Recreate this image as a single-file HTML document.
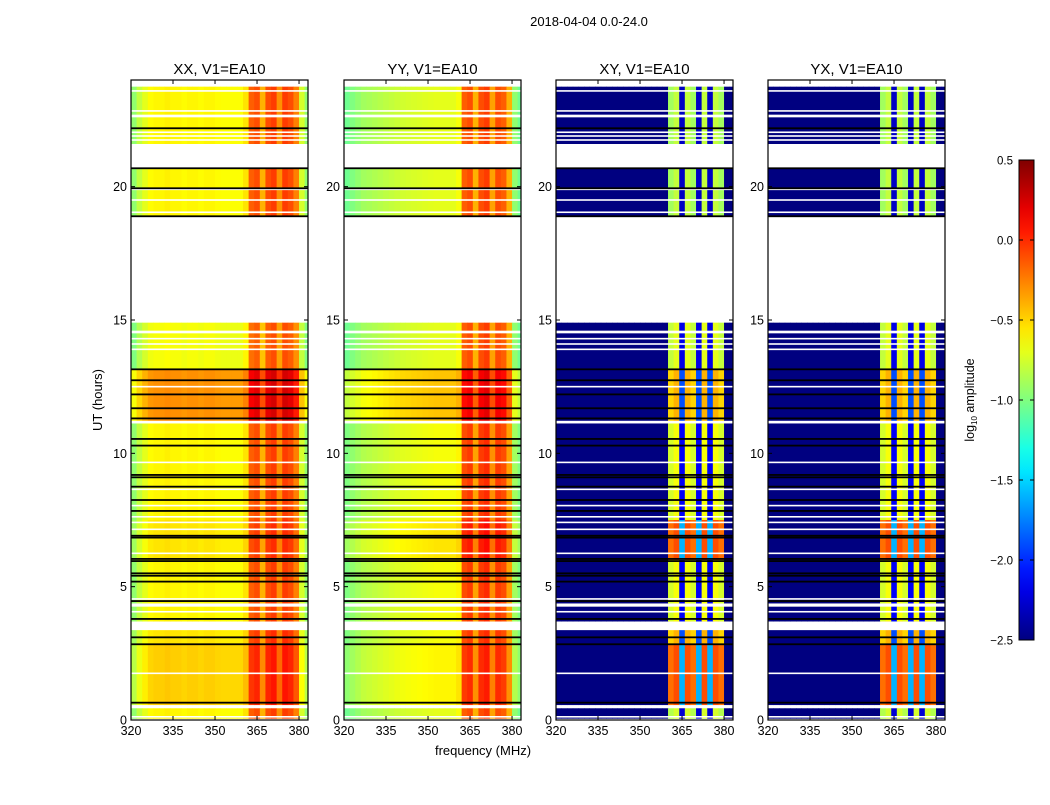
<!DOCTYPE html>
<html><head><meta charset="utf-8"><style>
body{margin:0;background:#fff;width:1050px;height:800px;overflow:hidden}
svg text{font-family:"Liberation Sans",sans-serif;fill:#000}
</style></head><body>
<svg id="chart" width="1050" height="800" xmlns="http://www.w3.org/2000/svg">
<defs><linearGradient id="jetgrad" x1="0" y1="1" x2="0" y2="0"></linearGradient></defs>
<text x="589" y="26" font-size="13" text-anchor="middle">2018-04-04 0.0-24.0</text>
<text x="102" y="400" font-size="13" text-anchor="middle" transform="rotate(-90 102 400)">UT (hours)</text>
<text x="483" y="755" font-size="13" text-anchor="middle">frequency (MHz)</text>
<g id="panels"></g>
<g id="cbar"></g>
</svg>
<script>
// ---- data ----
const panelTitles = ["XX, V1=EA10", "YY, V1=EA10", "XY, V1=EA10", "YX, V1=EA10"];
const freqBinStarts = [320,322,324,326,328,330,332,334,336,338,340,342,344,346,348,350,352,354,356,358,360,362,364,366,368,370,372,374,376,378,380,382];
const colXX = [-0.95,-0.8,-0.7,-0.62,-0.6,-0.6,-0.58,-0.6,-0.6,-0.62,-0.6,-0.6,-0.62,-0.6,-0.6,-0.62,-0.63,-0.63,-0.63,-0.63,-0.55,-0.15,-0.1,-0.4,-0.1,-0.05,-0.3,-0.05,-0.1,-0.25,-0.75,-0.95];
const colYY = [-1.05,-1.0,-0.95,-0.9,-0.88,-0.86,-0.84,-0.82,-0.8,-0.78,-0.76,-0.75,-0.74,-0.73,-0.72,-0.71,-0.7,-0.7,-0.7,-0.7,-0.65,-0.15,-0.1,-0.4,-0.1,-0.05,-0.35,-0.1,-0.15,-0.4,-0.95,-1.05];
const colXY = [-4,-4,-4,-4,-4,-4,-4,-4,-4,-4,-4,-4,-4,-4,-4,-4,-4,-4,-4,-4,-1.0,-0.9,-2.4,-0.9,-1.0,-2.4,-0.9,-2.4,-0.9,-1.0,-4,-4];
const colYX = [-4,-4,-4,-4,-4,-4,-4,-4,-4,-4,-4,-4,-4,-4,-4,-4,-4,-4,-4,-4,-1.0,-0.9,-2.4,-0.9,-1.0,-2.4,-0.9,-2.4,-0.9,-1.0,-4,-4];
const segStart = [0.05,0.56,2.85,3.7,6.0,7.5,11.2,13.15,18.9,21.6];
const segEnd   = [0.44,2.85,3.7,6.0,7.5,11.2,13.15,14.9,20.7,23.75];
const rowXX = [0,0.12,0.05,0,0.05,0,0.3,-0.05,0,0];
const rowYY = [0,0.1,0.05,0.05,0.15,0.05,0.25,0,0,0];
const rowXY = [0.15,0.8,0.5,0.25,0.8,0.25,0.5,0.2,0.1,0.1];
const rowYX = [0.15,0.8,0.5,0.25,0.8,0.25,0.5,0.2,0.1,0.1];
const blackLines = [0.65,2.84,3.1,3.79,4.46,5.19,5.41,5.5,5.96,6.04,6.84,6.91,7.84,8.25,8.75,9.1,9.19,10.29,10.54,11.31,11.69,12.21,12.74,13.15,18.89,19.94,20.69,22.19];
const whiteLines = [0.12,1.75,4.06,4.54,6.25,7.15,7.41,7.62,8.04,8.65,9.66,12.5,13.9,14.1,14.3,19.04,19.5,19.9,21.75,21.9,22.04,22.84,23.59];
const whiteBandStart = [3.37,4.25,11.12,14.5,22.6];
const whiteBandEnd   = [3.69,4.37,11.22,14.6,22.7];
const xTicks = [320,335,350,365,380];
const yTicks = [0,5,10,15,20];
const cbarTicks = [0.5,0.0,-0.5,-1.0,-1.5,-2.0,-2.5];
// ---- layout ----
const panelLeft = [131,344,556,768], panelW = 177, plotTop = 80, plotBottom = 720;
const fMin = 320, fMax = 383.2, tMin = 0, tMax = 24, vMin = -2.5, vMax = 0.5;
const cols = [colXX,colYY,colXY,colYX], rows = [rowXX,rowYY,rowXY,rowYX];
const NS = "http://www.w3.org/2000/svg";
function el(tag, attrs, parent){const e=document.createElementNS(NS,tag);for(const k in attrs)e.setAttribute(k,attrs[k]);parent.appendChild(e);return e;}
function jet(v){let t=(v-vMin)/(vMax-vMin);t=Math.max(0,Math.min(1,t));
 const f=x=>Math.max(0,Math.min(1,x));
 const r=f(Math.min(4*t-1.5,-4*t+4.5)),g=f(Math.min(4*t-0.5,-4*t+3.5)),b=f(Math.min(4*t+0.5,-4*t+2.5));
 return `rgb(${Math.round(r*255)},${Math.round(g*255)},${Math.round(b*255)})`;}
const yScale = t => plotBottom - (t - tMin) / (tMax - tMin) * (plotBottom - plotTop);
const panelsG = document.getElementById('panels');
for (let p=0;p<4;p++){
 const L = panelLeft[p];
 const xScale = f => L + (f - fMin)/(fMax - fMin)*panelW;
 const g = el('g',{},panelsG);
 
 
 const clipId='clip'+p;
 const cp=el('clipPath',{id:clipId},g); el('rect',{x:L,y:plotTop,width:panelW,height:plotBottom-plotTop},cp);
 const hm = el('g',{'clip-path':`url(#${clipId})`},g);
 
 
 for (let s=0;s<segStart.length;s++){
  for (let b=0;b<freqBinStarts.length;b++){
   const x0=xScale(freqBinStarts[b]), x1=xScale(freqBinStarts[b]+2);
   const y0=yScale(segEnd[s]), y1=yScale(segStart[s]);
   const r=el('rect',{x:x0,y:y0,width:x1-x0+0.4,height:y1-y0,fill:jet(cols[p][b]+rows[p][s])},hm);
   
   
  }
 }
 for (let i=0;i<whiteBandStart.length;i++){
  const r=el('rect',{x:L,y:yScale(whiteBandEnd[i]),width:panelW,height:yScale(whiteBandStart[i])-yScale(whiteBandEnd[i]),fill:'#fff'},hm);
  
  
 }
 for (const t of whiteLines){
  const r=el('rect',{x:L,y:yScale(t)-0.8,width:panelW,height:1.6,fill:'#fff'},hm);
  
  
 }
 for (const t of blackLines){
  const r=el('rect',{x:L,y:yScale(t)-0.9,width:panelW,height:1.8,fill:'#000'},hm);
  
  
 }
 const fr=el('rect',{x:L,y:plotTop,width:panelW,height:plotBottom-plotTop,fill:'none',stroke:'#000','stroke-width':1.2},g);
 
 
 const tt=el('text',{x:L+panelW/2,y:74,'font-size':15,'text-anchor':'middle'},g); tt.textContent=panelTitles[p];
 
 
 for (const f of xTicks){
  const x=xScale(f);
  el('line',{x1:x,y1:plotBottom,x2:x,y2:plotBottom-4,stroke:'#000'},g);
  el('line',{x1:x,y1:plotTop,x2:x,y2:plotTop+4,stroke:'#000'},g);
  const lb=el('text',{x:x,y:plotBottom+15,'font-size':12.5,'text-anchor':'middle'},g); lb.textContent=f;
  
  
 }
 for (const t of yTicks){
  const y=yScale(t);
  el('line',{x1:L,y1:y,x2:L+4,y2:y,stroke:'#000'},g);
  el('line',{x1:L+panelW,y1:y,x2:L+panelW-4,y2:y,stroke:'#000'},g);
  const lb=el('text',{x:L-4,y:y+4.5,'font-size':12.5,'text-anchor':'end'},g); lb.textContent=t;
  
  
 }
}
// colorbar
const grad=document.getElementById('jetgrad');
for(let i=0;i<=20;i++){const v=vMin+(vMax-vMin)*i/20;el('stop',{offset:(i/20),'stop-color':jet(v)},grad);}
const cb=document.getElementById('cbar');
const cbL=1019,cbW=15,cbT=160,cbB=640;
const cbY=v=>cbB-(v-vMin)/(vMax-vMin)*(cbB-cbT);
const cbr=el('rect',{x:cbL,y:cbT,width:cbW,height:cbB-cbT,fill:'url(#jetgrad)',stroke:'#000','stroke-width':1},cb);


for(const v of cbarTicks){
 const y=cbY(v);
 el('line',{x1:cbL,y1:y,x2:cbL+4,y2:y,stroke:'#000'},cb);
 el('line',{x1:cbL+cbW,y1:y,x2:cbL+cbW-4,y2:y,stroke:'#000'},cb);
 const lb=el('text',{x:1013,y:y+4.5,'font-size':11.5,'text-anchor':'end'},cb);
 lb.textContent=(v<0?'\u2212':'')+Math.abs(v).toFixed(1);
 
 
}
const cbt=el('text',{x:974,y:400,'font-size':12.5,'text-anchor':'middle',transform:'rotate(-90 974 400)'},cb);
cbt.innerHTML='log<tspan font-size="8" dy="3">10</tspan><tspan dy="-3"> amplitude</tspan>';


</script>
</body></html>
